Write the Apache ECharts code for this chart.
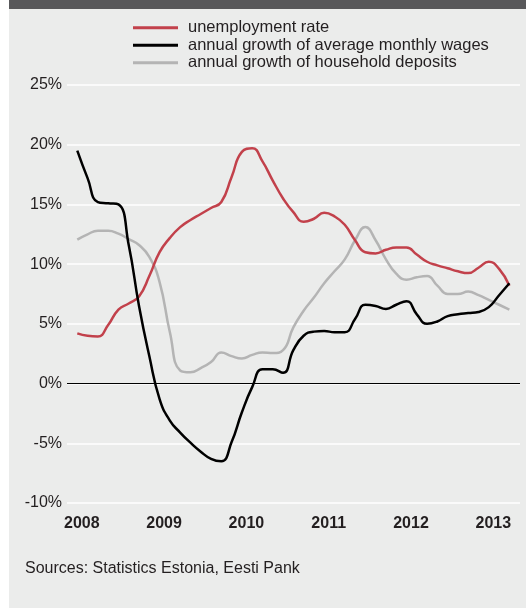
<!DOCTYPE html>
<html>
<head>
<meta charset="utf-8">
<script src="https://cdn.jsdelivr.net/npm/echarts@6/dist/echarts.min.js"></script>
<style>
  html, body { margin: 0; padding: 0; background: #ffffff; }
  #chart { width: 526px; height: 608px; }
</style>
</head>
<body>
<div id="chart"></div>
<script>
// Observations every 1.5 months from January 2008 (percent)
const periodStart = 2008;
const periodsPerYear = 8;
const unemploymentRate = [4.2, 4.0, 3.95, 4.9, 6.2, 6.7, 7.3, 9.0, 11.0, 12.2, 13.1, 13.7, 14.2, 14.7, 15.2,
                          17.3, 19.4, 19.7, 18.6, 17.0, 15.5, 14.35, 13.55, 13.8, 14.3, 14.0, 13.3, 12.0,
                          11.0, 10.9, 11.2, 11.4, 11.4, 10.8, 10.2, 9.9, 9.65, 9.4, 9.25, 9.7, 10.2, 9.6, 8.2];
const wageGrowth = [19.5, 17.2, 15.2, 15.1, 15.0, 11.6, 6.5, 2.3, -1.3, -3.1, -4.1, -4.95, -5.7, -6.3, -6.5,
                    -4.9, -2.4, -0.3, 1.2, 1.2, 0.9, 2.8, 4.0, 4.35, 4.4, 4.3, 4.3, 5.4,
                    6.6, 6.5, 6.25, 6.6, 6.9, 5.8, 5.0, 5.2, 5.65, 5.8, 5.9, 6.0, 6.4, 7.4, 8.4];
const depositGrowth = [12.05, 12.5, 12.8, 12.8, 12.55, 12.1, 11.6, 10.6, 8.5, 4.3, 1.1, 0.95, 1.3, 1.8, 2.6,
                       2.3, 2.1, 2.4, 2.6, 2.55, 2.8, 4.7, 6.1, 7.2, 8.4, 9.4, 10.4, 12.0,
                       13.1, 12.0, 10.4, 9.2, 8.7, 8.9, 9.0, 8.2, 7.5, 7.5, 7.7, 7.4, 7.0, 6.6, 6.2];
const yearLabels = [2008, 2009, 2010, 2011, 2012, 2013];
const seriesNames = ["unemployment rate", "annual growth of average monthly wages", "annual growth of household deposits"];

// period index -> fractional year on the x axis
function pairs(values) {
  return values.map((v, i) => [periodStart + i / periodsPerYear, v]);
}

const font = "'Liberation Sans', Arial, Helvetica, sans-serif";
const textColor = "#231f20";

const chart = echarts.init(document.getElementById("chart"), null, { renderer: "canvas" });

chart.setOption({
  backgroundColor: "#ffffff",
  animation: false,
  graphic: [
    { type: "rect", left: 9, top: 0, shape: { width: 517, height: 608 }, style: { fill: "#ebeceb" }, z: -10 },
    { type: "rect", left: 9, top: 0, shape: { width: 517, height: 9 }, style: { fill: "#58585a" }, z: -10 }
  ],
  title: {
    text: "Sources: Statistics Estonia, Eesti Pank",
    left: 25,
    top: 561,
    padding: 0,
    textStyle: { fontFamily: font, fontSize: 16, fontWeight: "normal", color: textColor }
  },
  legend: {
    orient: "vertical",
    left: 133,
    top: 19,
    padding: 0,
    itemGap: 0,
    itemWidth: 45,
    itemHeight: 3,
    icon: "rect",
    data: seriesNames,
    textStyle: { fontFamily: font, fontSize: 16.5, color: textColor, lineHeight: 17.5, padding: [0, 0, 0, 5] }
  },
  grid: { left: 67, right: 6, top: 85, bottom: 105, containLabel: false },
  xAxis: {
    type: "value",
    min: 2007.875,
    max: 2013.379,
    axisLine: { show: false },
    axisTick: { show: false },
    splitLine: { show: false },
    axisLabel: {
      customValues: yearLabels,
      formatter: v => String(Math.round(v)),
      margin: 13,
      padding: [0, 0, 0, 9],
      fontFamily: font,
      fontSize: 16,
      fontWeight: "bold",
      color: textColor
    }
  },
  yAxis: {
    type: "value",
    min: -10,
    max: 25,
    interval: 5,
    axisLine: { show: false },
    axisTick: { show: false },
    splitLine: { lineStyle: { color: "#ffffff", width: 1.5 } },
    axisLabel: {
      formatter: "{value}%",
      margin: 5,
      fontFamily: font,
      fontSize: 16,
      color: textColor
    }
  },
  series: [
    {
      name: seriesNames[2],
      type: "line",
      data: pairs(depositGrowth),
      smooth: 0.5,
      symbol: "none",
      z: 2,
      lineStyle: { color: "#b4b4b4", width: 2.5 },
      itemStyle: { color: "#b4b4b4" }
    },
    {
      name: seriesNames[0],
      type: "line",
      data: pairs(unemploymentRate),
      smooth: 0.5,
      symbol: "none",
      z: 3,
      lineStyle: { color: "#c2414b", width: 2.5 },
      itemStyle: { color: "#c2414b" }
    },
    {
      name: seriesNames[1],
      type: "line",
      data: pairs(wageGrowth),
      smooth: 0.5,
      symbol: "none",
      z: 4,
      lineStyle: { color: "#000000", width: 2.5 },
      itemStyle: { color: "#000000" },
      markLine: {
        silent: true,
        symbol: "none",
        label: { show: false },
        lineStyle: { color: "#000000", width: 1.2, type: "solid" },
        data: [{ yAxis: 0 }],
        z: 1
      }
    }
  ]
});
</script>
</body>
</html>
